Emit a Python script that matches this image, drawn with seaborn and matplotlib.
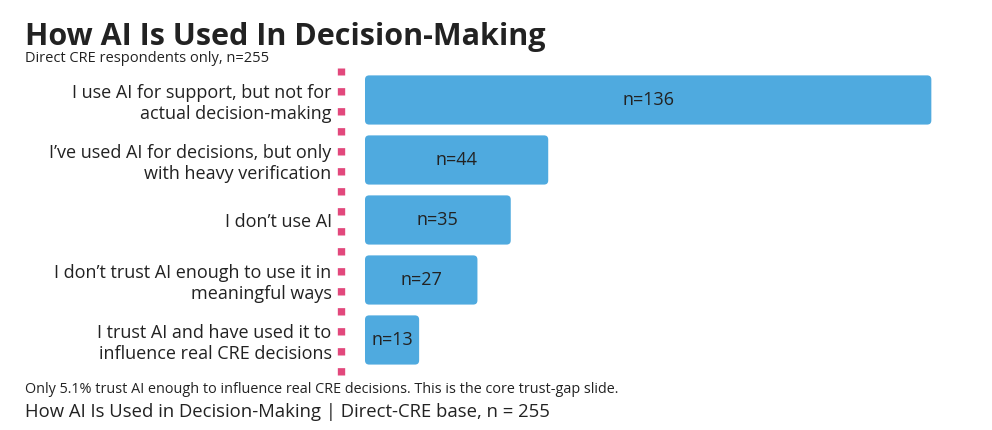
import pandas as pd
import seaborn as sns
import matplotlib.pyplot as plt
from matplotlib.patches import FancyBboxPatch

responses = [
    "I use AI for support, but not for\nactual decision-making",
    "I\u2019ve used AI for decisions, but only\nwith heavy verification",
    "I don\u2019t use AI",
    "I don\u2019t trust AI enough to use it in\nmeaningful ways",
    "I trust AI and have used it to\ninfluence real CRE decisions",
]
counts = [136, 44, 35, 27, 13]
bar_labels = [f"n={c}" for c in counts]

BAR_COLOR = "#4FAADF"
DOT_COLOR = "#E2487C"
TEXT_COLOR = "#222222"

sns.set_theme(style="white")
plt.rcParams['font.family'] = ['Open Sans', 'DejaVu Sans']

df = pd.DataFrame({"response": responses, "count": counts})

W, H = 992, 430
ax_top, ax_h = 68, 307.4
fig = plt.figure(figsize=(W / 100, H / 100), dpi=100)
ax = fig.add_axes([365 / W, 1 - (ax_top + ax_h) / H, 583 / W, ax_h / H])

sns.barplot(data=df, x="count", y="response", color=BAR_COLOR,
            width=0.82, saturation=1, ax=ax)

ax.bar_label(ax.containers[0], labels=bar_labels, label_type='center',
             fontsize=13, color=TEXT_COLOR)

ax.set_xlim(0, 140)
y_lo = -0.533
y_hi = y_lo + ax_h / 60
ax.set_ylim(y_hi, y_lo)

# swap the square bars for ones with rounded corners
x_px = 583 / 140
y_px = 60
for p in list(ax.patches):
    x, y = p.get_x(), p.get_y()
    w, h = p.get_width(), p.get_height()
    p.remove()
    ax.add_patch(FancyBboxPatch((x, y), w, h,
                                boxstyle="round,pad=0,rounding_size=1.0",
                                mutation_aspect=x_px / y_px,
                                facecolor=BAR_COLOR, edgecolor='none'))

ax.set_xlabel("")
ax.set_ylabel("")
ax.set_xticks([])
ax.tick_params(axis='y', length=0, pad=7, labelsize=13, labelcolor=TEXT_COLOR)
for lab in ax.get_yticklabels():
    lab.set_linespacing(1.05)

for side in ['top', 'right', 'bottom']:
    ax.spines[side].set_visible(False)
ax.spines['left'].set_position(('outward', 17))
ax.spines['left'].set_color(DOT_COLOR)
ax.spines['left'].set_linewidth(5.3)
ax.spines['left'].set_linestyle((0, (1, 1.717)))
ax.spines['left'].set_capstyle('butt')

fig.text(0.025, 0.895, "How AI Is Used In Decision-Making", fontsize=22,
         fontweight='bold', color=TEXT_COLOR)
fig.text(0.025, 0.855, "Direct CRE respondents only, n=255", fontsize=10.5,
         color=TEXT_COLOR)
fig.text(0.025, 0.085, "Only 5.1% trust AI enough to influence real CRE decisions. "
         "This is the core trust-gap slide.", fontsize=10.4, color=TEXT_COLOR)
fig.text(0.025, 0.03, "How AI Is Used in Decision-Making | Direct-CRE base, n = 255",
         fontsize=13.3, color=TEXT_COLOR)

fig.savefig("out.png", dpi=100)
